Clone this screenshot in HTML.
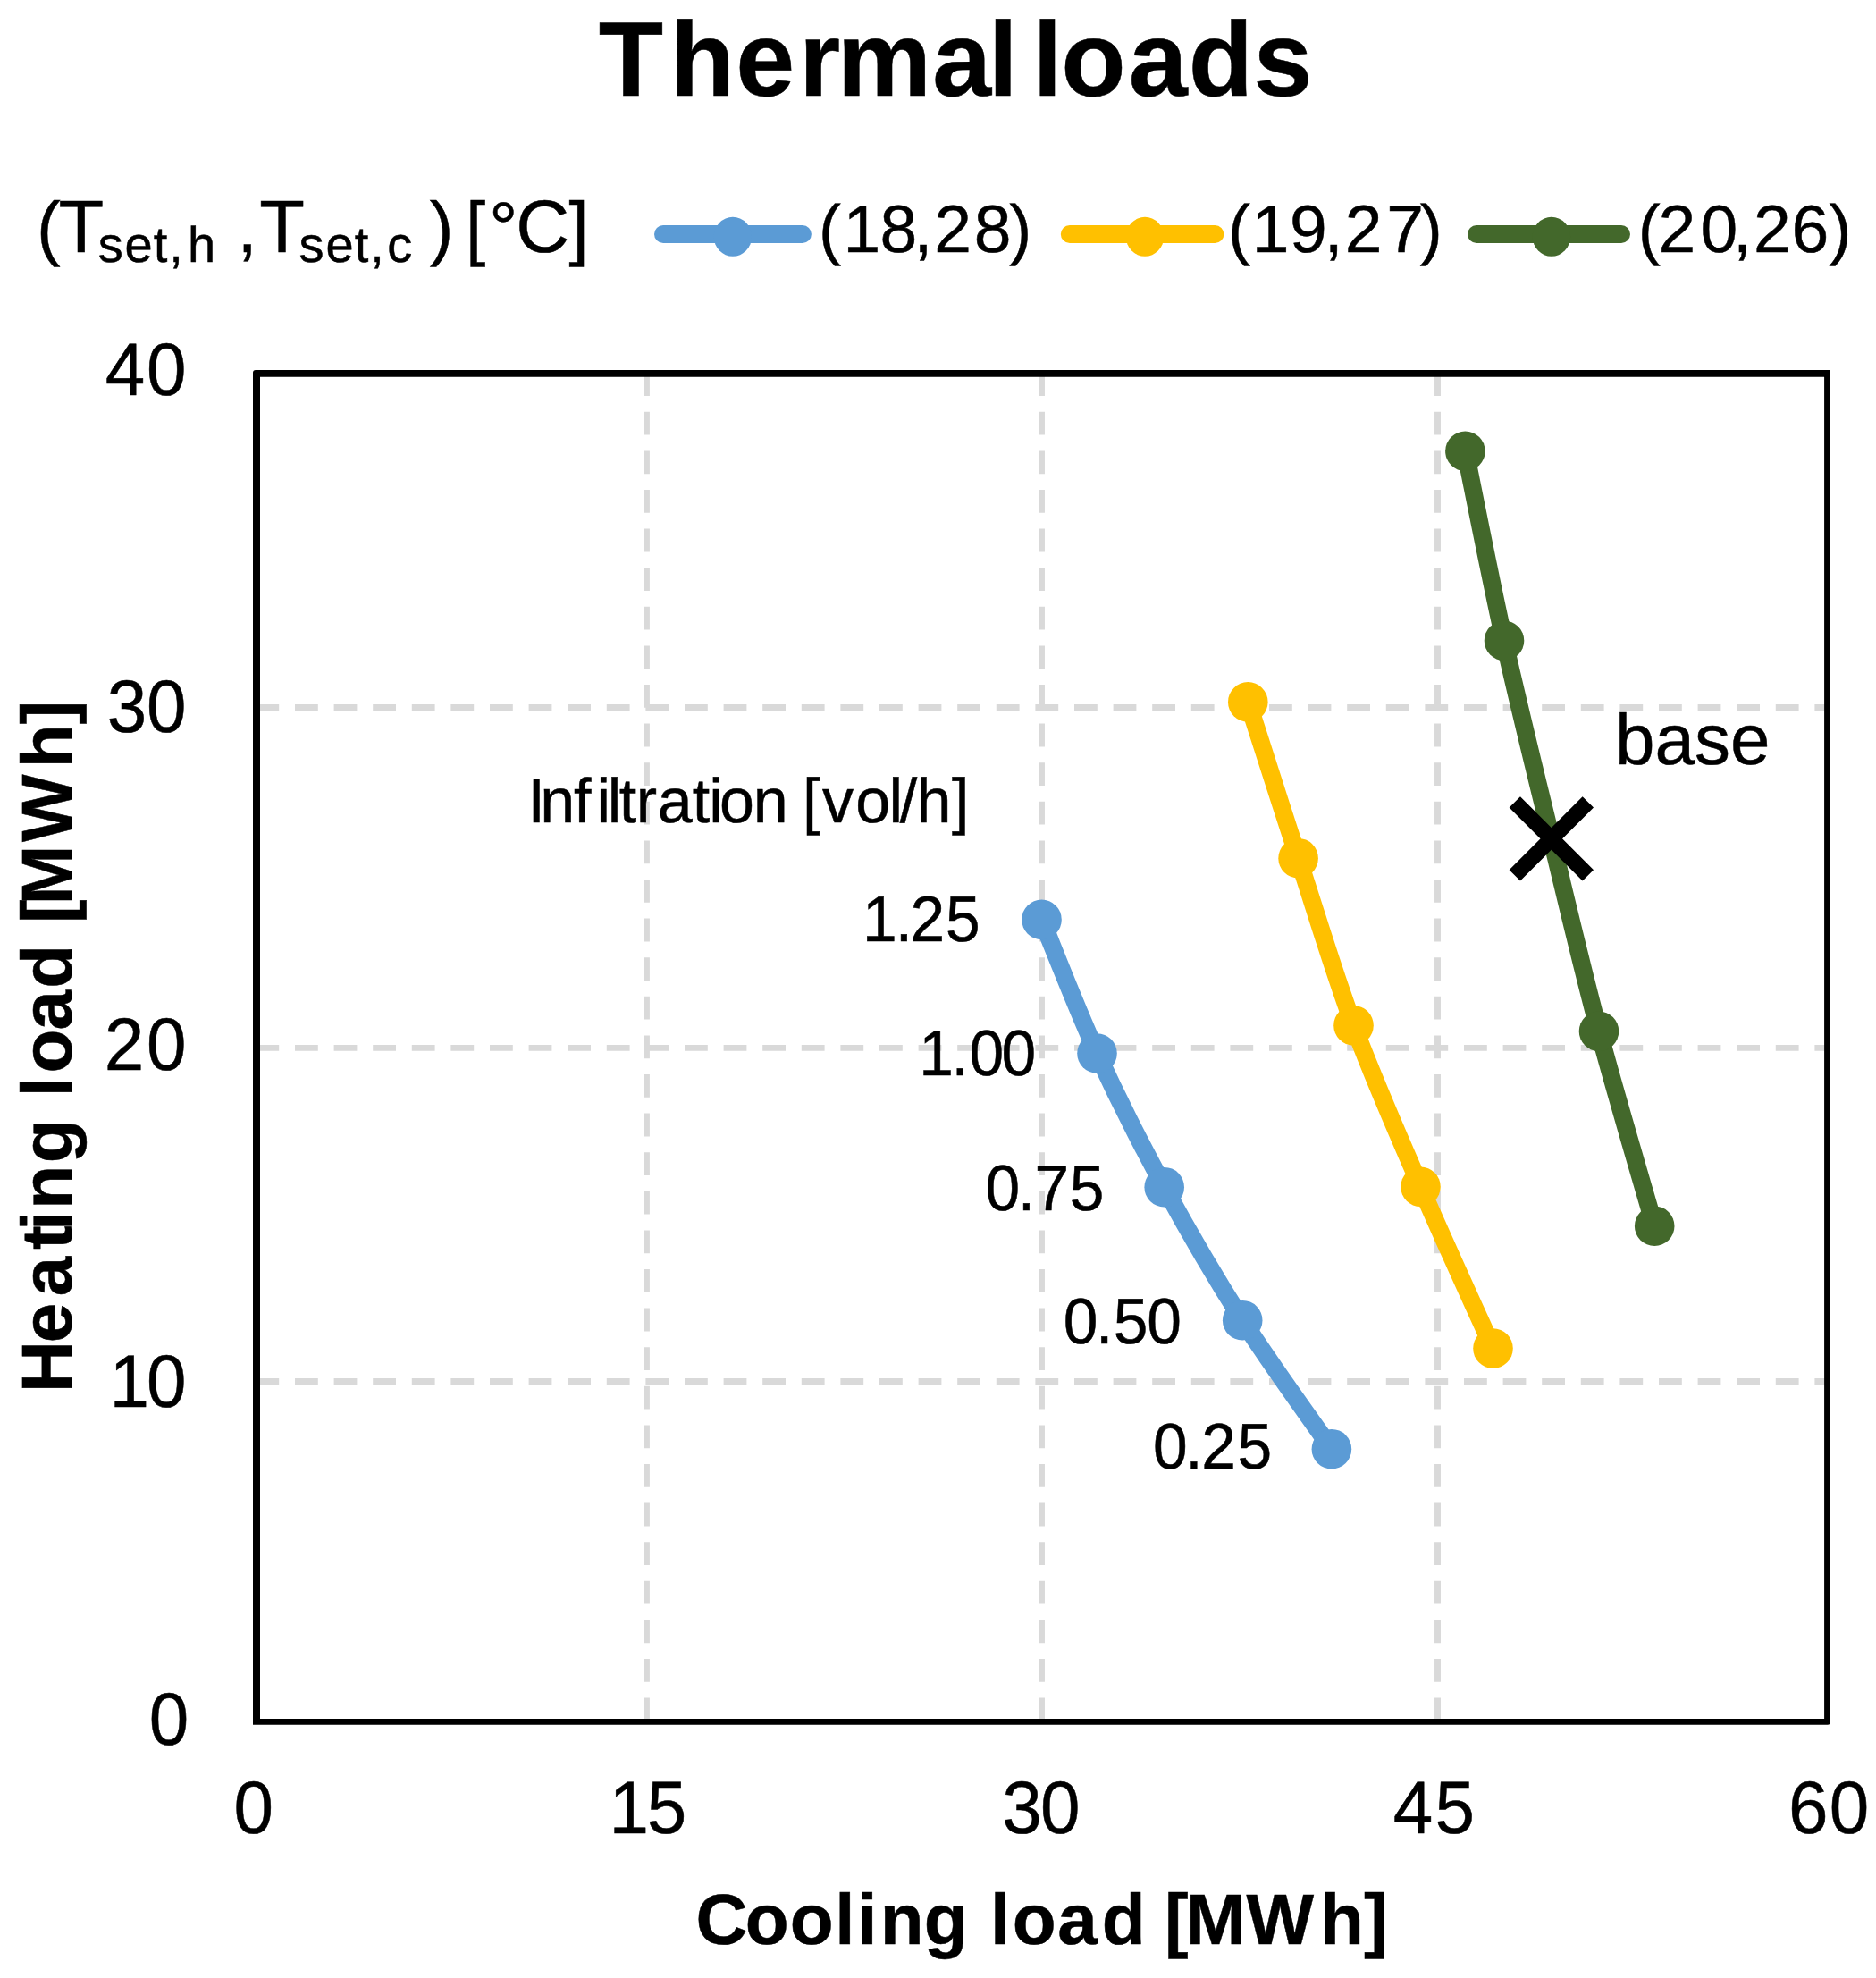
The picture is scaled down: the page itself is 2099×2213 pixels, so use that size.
<!DOCTYPE html>
<html lang="en"><head><meta charset="utf-8"><title>Thermal loads</title>
<style>html,body{margin:0;padding:0;background:#fff}svg{display:block}</style></head>
<body>
<svg text-rendering="geometricPrecision" width="2099" height="2213" viewBox="0 0 2099 2213" font-family="'Liberation Sans', sans-serif" fill="#000">
<rect width="2099" height="2213" fill="#fff"/>
<g stroke="#D9D9D9" fill="none" stroke-dasharray="25.8 17.8">
<line x1="286.4" y1="791.95" x2="2044.5" y2="791.95" stroke-width="7.7"/>
<line x1="286.4" y1="1172.4" x2="2044.5" y2="1172.4" stroke-width="6.8"/>
<line x1="286.4" y1="1545.9" x2="2044.5" y2="1545.9" stroke-width="7.8"/>
<line x1="723.5" y1="417.2" x2="723.5" y2="1926.4" stroke-width="6.8"/>
<line x1="1165.5" y1="417.2" x2="1165.5" y2="1926.4" stroke-width="6.9"/>
<line x1="1608.5" y1="417.2" x2="1608.5" y2="1926.4" stroke-width="6.9"/>
</g>
<path d="M1165.5,1028.9 C1175.83,1053.83 1204.63,1128.62 1227.5,1178.5 C1250.37,1228.38 1275.58,1278.42 1302.7,1328.2 C1329.82,1377.98 1359,1428.37 1390.2,1477.2 C1421.4,1526.03 1473.28,1597.2 1489.9,1621.2" fill="none" stroke="#5B9BD5" stroke-width="19.8" stroke-linecap="round" stroke-linejoin="round"/>
<g fill="#5B9BD5">
<circle cx="1165.5" cy="1028.9" r="22.3"/>
<circle cx="1227.5" cy="1178.5" r="22.3"/>
<circle cx="1302.7" cy="1328.2" r="22.3"/>
<circle cx="1390.2" cy="1477.2" r="22.3"/>
<circle cx="1489.9" cy="1621.2" r="22.3"/>
</g>
<path d="M1396.3,785.4 C1405.68,814.53 1432.9,899.88 1452.6,960.2 C1472.3,1020.52 1491.68,1086.03 1514.5,1147.3 C1537.32,1208.57 1563.5,1267.58 1589.5,1327.8 C1615.5,1388.02 1657,1478.47 1670.5,1508.6" fill="none" stroke="#FFC000" stroke-width="19.8" stroke-linecap="round" stroke-linejoin="round"/>
<g fill="#FFC000">
<circle cx="1396.3" cy="785.4" r="22.3"/>
<circle cx="1452.6" cy="960.2" r="22.3"/>
<circle cx="1514.5" cy="1147.3" r="22.3"/>
<circle cx="1589.5" cy="1327.8" r="22.3"/>
<circle cx="1670.5" cy="1508.6" r="22.3"/>
</g>
<path d="M1639.4,504.8 C1646.67,540.13 1666.93,644.53 1683,716.8 C1699.07,789.07 1718.13,865.57 1735.8,938.4 C1753.47,1011.23 1769.77,1081.58 1789,1153.8 C1808.23,1226.02 1840.83,1335.38 1851.2,1371.7" fill="none" stroke="#43682B" stroke-width="19.8" stroke-linecap="round" stroke-linejoin="round"/>
<g fill="#43682B">
<circle cx="1639.4" cy="504.8" r="22.3"/>
<circle cx="1683" cy="716.8" r="22.3"/>
<circle cx="1789" cy="1153.8" r="22.3"/>
<circle cx="1851.2" cy="1371.7" r="22.3"/>
</g>
<path d="M1694.8,897.4 L1776.8,979.4 M1694.8,979.4 L1776.8,897.4" stroke="#000" stroke-width="17.5" fill="none"/>
<path fill="#000" fill-rule="evenodd" d="M286,414.1 H2047.9 V1926.8 Q2047.9,1929.8 2044.9,1929.8 H283 V417.1 Q283,414.1 286,414.1 Z M291,421.8 V1923 H2041.1 V421.8 Z"/>
<line x1="742" y1="262" x2="897.9" y2="262" stroke="#5B9BD5" stroke-width="20" stroke-linecap="round"/>
<ellipse cx="819.9" cy="264.8" rx="21.2" ry="22" fill="#5B9BD5"/>
<line x1="1196.8" y1="262" x2="1359.4" y2="262" stroke="#FFC000" stroke-width="20" stroke-linecap="round"/>
<ellipse cx="1281" cy="264.8" rx="21.2" ry="22" fill="#FFC000"/>
<line x1="1652" y1="262" x2="1814" y2="262" stroke="#43682B" stroke-width="20" stroke-linecap="round"/>
<ellipse cx="1735.9" cy="264.8" rx="21.2" ry="22" fill="#43682B"/>
<g stroke="#000" stroke-width="0.5">
<text x="669.77 749.63 823.37 894.09 936.79 1043.33 1105.73 1138.65 1155.53 1187.27 1262.83 1329.74 1402.43" y="106.7" font-size="118.5" font-weight="bold">Thermal loads</text>
<text><tspan x="40.94" y="282" font-size="80">(</tspan><tspan x="65.44" y="282" font-size="83">T</tspan><tspan x="109.64 139.52 171.85 189.17 209.92" y="293" font-size="56">set,h</tspan><tspan x="250.6 265.61" y="282" font-size="80"> ,</tspan><tspan x="290.14" y="282" font-size="83">T</tspan><tspan x="334.54 364.62 396.85 414.37 433.32" y="293" font-size="56">set,c</tspan><tspan x="459 480.73 507.37 521.1 547.33" y="282" font-size="80"> ) [°</tspan><tspan x="577.19" y="282" font-size="83">C</tspan><tspan x="636.58" y="282" font-size="80">]</tspan></text>
<text x="916.05 943.49 984.54 1022.46 1045.33 1089.84 1129.16" y="282" font-size="75">(18,28)</text>
<text x="1374.05 1400.69 1442.88 1481.76 1504.73 1551.25 1588.76" y="282" font-size="75">(19,27)</text>
<text x="1832.65 1855.53 1902.47 1939.06 1961.93 2004.49 2046.46" y="282" font-size="75">(20,26)</text>
<text transform="translate(0,442) scale(1,1.04)" x="117.86 163.88" y="0" font-size="80">40</text>
<text transform="translate(0,819.3) scale(1,1.04)" x="119.85 163.88" y="0" font-size="80">30</text>
<text transform="translate(0,1196.8) scale(1,1.04)" x="116.78 163.88" y="0" font-size="80">20</text>
<text transform="translate(0,1574.2) scale(1,1.04)" x="122.61 163.88" y="0" font-size="80">10</text>
<text transform="translate(0,1951.6) scale(1,1.04)" x="166.78" y="0" font-size="80">0</text>
<text transform="translate(0,2051) scale(1,1.04)" x="261.48" y="0" font-size="80">0</text>
<text transform="translate(0,2051) scale(1,1.04)" x="681.61 723.7" y="0" font-size="80">15</text>
<text transform="translate(0,2051) scale(1,1.04)" x="1121.25 1164.08" y="0" font-size="80">30</text>
<text transform="translate(0,2051) scale(1,1.04)" x="1558.86 1605.4" y="0" font-size="80">45</text>
<text transform="translate(0,2051) scale(1,1.04)" x="2001.04 2046.68" y="0" font-size="80">60</text>
<text x="778.42 833.67 883.77 934.21 959.21 984.83 1033.82 1082.69 1108.11 1132.67 1183.26 1232.72 1281.59 1303.01 1326.65 1394.52 1477.01 1526.02" y="2174.7" font-size="80" font-weight="bold">Cooling load [MWh]</text>
<text transform="translate(79.6,0) rotate(-90)" x="-1558.05 -1502.33 -1450.34 -1397.98 -1376.69 -1352.77 -1301.18 -1252.31 -1227.29 -1200.42 -1152.54 -1105.68 -1056.81 -1032.89 -1012.15 -942.08 -859.29 -810.58" y="0" font-size="80" font-weight="bold">Heating load [MWh]</text>
<text x="1807.04 1851.54 1896.03 1936.03" y="854.5" font-size="80">base</text>
<text x="590.44 604.15 642.11 667.52 679.68 692.84 711.85 735.73 774.64 793.22 805.06 842.85 881.78 897.91 920.06 957.36 994.38 1006.8 1025.55 1065.05" y="920" font-size="70">Infiltration [vol/h]</text>
<text transform="translate(0,1052.5) scale(1,1.04)" x="965.01 1001.65 1018.6 1058.12" y="0" font-size="69.5">1.25</text>
<text transform="translate(0,1202.8) scale(1,1.04)" x="1028.31 1064.55 1084.39 1120.59" y="0" font-size="69.5">1.00</text>
<text transform="translate(0,1353.6) scale(1,1.04)" x="1102.49 1138.75 1157.54 1196.72" y="0" font-size="69.5">0.75</text>
<text transform="translate(0,1502.8) scale(1,1.04)" x="1189.69 1226.05 1245.82 1283.29" y="0" font-size="69.5">0.50</text>
<text transform="translate(0,1643.1) scale(1,1.04)" x="1290.09 1326.25 1344.3 1384.42" y="0" font-size="69.5">0.25</text>
</g>
</svg>
</body></html>
